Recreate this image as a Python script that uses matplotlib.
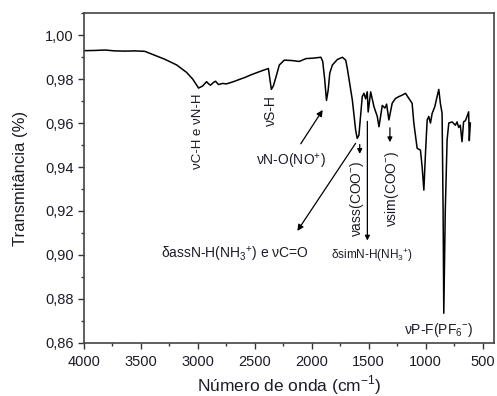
import matplotlib
matplotlib.use("Agg")
import matplotlib.pyplot as plt
from matplotlib.ticker import MultipleLocator, FuncFormatter

plt.rcParams['font.family'] = ['Liberation Sans', 'DejaVu Sans']
plt.rcParams['mathtext.fontset'] = 'custom'
plt.rcParams['mathtext.rm'] = 'Liberation Sans'

wavenumber = [4000, 3904, 3816, 3729, 3641, 3554, 3466, 3388, 3291, 3186, 3099, 3046,
              2994, 2959, 2924, 2906, 2889, 2862, 2845, 2819, 2784, 2749, 2688, 2626,
              2583, 2539, 2478, 2425, 2381, 2368, 2355, 2338, 2314, 2285, 2241, 2171,
              2110, 2051, 1988, 1920, 1904, 1887, 1871, 1856, 1842, 1819, 1775, 1731,
              1702, 1688, 1658, 1644, 1615, 1601, 1586, 1577, 1557, 1542, 1527, 1513,
              1505, 1483, 1454, 1425, 1410, 1396, 1381, 1358, 1343, 1323, 1294, 1265,
              1236, 1206, 1177, 1148, 1119, 1104, 1075, 1046, 1031, 1016, 1002, 987,
              973, 958, 943, 920, 900, 885, 871, 856, 847, 841, 828, 812, 797, 768,
              739, 725, 710, 696, 681, 667, 652, 638, 623, 617, 608]
transmittance = [0.9929, 0.9930, 0.9932, 0.9928, 0.9927, 0.9928, 0.9926, 0.9910, 0.9890, 0.9864, 0.9830, 0.9800,
                 0.9759, 0.9768, 0.9788, 0.9778, 0.9772, 0.9785, 0.9790, 0.9775, 0.9780, 0.9778, 0.9788, 0.9800,
                 0.9808, 0.9818, 0.9830, 0.9840, 0.9848, 0.9800, 0.9753, 0.9768, 0.9810, 0.9864, 0.9886, 0.9884,
                 0.9880, 0.9893, 0.9895, 0.9899, 0.9880, 0.9800, 0.9703, 0.9750, 0.9827, 0.9864, 0.9889, 0.9899,
                 0.9886, 0.9848, 0.9750, 0.9705, 0.9568, 0.9530, 0.9545, 0.9600, 0.9720, 0.9735, 0.9710, 0.9742,
                 0.9650, 0.9742, 0.9674, 0.9630, 0.9583, 0.9630, 0.9680, 0.9668, 0.9686, 0.9614, 0.9690, 0.9712,
                 0.9720, 0.9727, 0.9735, 0.9712, 0.9690, 0.9600, 0.9485, 0.9477, 0.9400, 0.9295, 0.9460, 0.9614,
                 0.9630, 0.9600, 0.9644, 0.9674, 0.9720, 0.9753, 0.9690, 0.9644, 0.9200, 0.8735, 0.9200, 0.9523, 0.9600, 0.9605,
                 0.9590, 0.9605, 0.9580, 0.9590, 0.9515, 0.9606, 0.9610, 0.9628, 0.9651, 0.9520, 0.9600]

xticks = [4000, 3500, 3000, 2500, 2000, 1500, 1000, 500]
yticks = [0.86, 0.88, 0.90, 0.92, 0.94, 0.96, 0.98, 1.00]

tc = '#1c1c28'

fig = plt.figure(figsize=(4.97, 3.96), dpi=100)
ax = fig.add_axes([0.169, 0.134, 0.825, 0.833])
ax.plot(wavenumber, transmittance, color='black', lw=1.1)

ax.set_xlim(4000, 400)
ax.set_ylim(0.86, 1.01)
ax.set_xticks(xticks)
ax.set_yticks(yticks)
ax.xaxis.set_minor_locator(MultipleLocator(250))
ax.yaxis.set_minor_locator(MultipleLocator(0.01))
ax.yaxis.set_major_formatter(FuncFormatter(lambda v, p: f"{v:.2f}".replace('.', ',')))
ax.tick_params(axis='both', which='major', direction='out', length=4, width=1, labelsize=10.5, colors='#333333', labelcolor=tc)
ax.tick_params(axis='x', which='major', pad=5)
ax.tick_params(axis='both', which='minor', direction='out', length=2.5, width=1, colors='#333333')
for s in ax.spines.values():
    s.set_color('#444444')
    s.set_linewidth(1.2)

ax.set_xlabel('Número de onda (cm$^{-1}$)', fontsize=12.5, color=tc, labelpad=3)
ax.set_ylabel('Transmitância (%)', fontsize=12, color=tc, labelpad=12)

fs = 10
ax.text(3000, 0.9735, 'νC-H e νN-H', rotation=90, ha='center', va='top', fontsize=9.5, color=tc)
ax.text(2355, 0.9725, 'νS-H', rotation=90, ha='center', va='top', fontsize=fs, color=tc)
ax.text(2180, 0.9423, 'νN-O(NO$^{+}$)', ha='center', va='center', fontsize=fs, color=tc)
ax.annotate('', xy=(1891, 0.967), xytext=(2110, 0.9495),
            arrowprops=dict(arrowstyle='-|>', color='black', lw=0.9, mutation_scale=9))
ax.text(2674, 0.900, 'δassN-H(NH$_{3}$$^{+}$) e νC=O', ha='center', va='center', fontsize=fs, color=tc)
ax.annotate('', xy=(2140, 0.9099), xytext=(1602, 0.9518),
            arrowprops=dict(arrowstyle='-|>', color='black', lw=0.9, mutation_scale=9))
ax.text(1600, 0.9432, 'νass(COO$^{-}$)', rotation=90, ha='center', va='top', fontsize=fs, color=tc)
ax.annotate('', xy=(1579, 0.9447), xytext=(1579, 0.9515),
            arrowprops=dict(arrowstyle='-|>', color='black', lw=0.9, mutation_scale=7))
ax.annotate('', xy=(1512, 0.9053), xytext=(1512, 0.962),
            arrowprops=dict(arrowstyle='-|>', color='black', lw=0.9, mutation_scale=7))
ax.text(1469, 0.8995, 'δsimN-H(NH$_{3}$$^{+}$)', ha='center', va='center', fontsize=8.5, color=tc)
ax.text(1294, 0.9477, 'νsim(COO$^{-}$)', rotation=90, ha='center', va='top', fontsize=fs, color=tc)
ax.annotate('', xy=(1314, 0.9500), xytext=(1314, 0.9591),
            arrowprops=dict(arrowstyle='-|>', color='black', lw=0.9, mutation_scale=7))
ax.text(881, 0.866, 'νP-F(PF$_{6}$$^{-}$)', ha='center', va='center', fontsize=fs, color=tc)

fig.savefig('out.png', dpi=100)
